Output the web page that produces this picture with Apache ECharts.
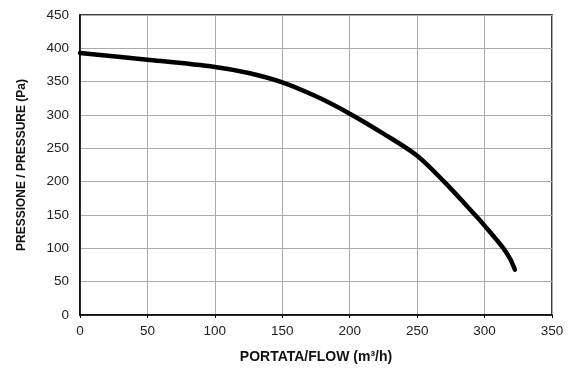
<!DOCTYPE html>
<html><head><meta charset="utf-8">
<script src="https://cdn.jsdelivr.net/npm/echarts@6/dist/echarts.min.js"></script>
<style>html,body{margin:0;padding:0;background:#fff}#c{width:584px;height:369px}</style>
</head><body><div id="c"></div>
<script>
const flow = [0, 50, 100, 125, 150, 175, 200, 225, 250, 270, 293, 300, 314, 319, 322.5];
const pressure = [393, 383, 372, 363, 349, 328, 302, 272, 239, 200, 150, 134, 100, 84, 68];
const xTitle = 'PORTATA/FLOW (m³/h)';
const yTitle = 'PRESSIONE / PRESSURE (Pa)';

const chart = echarts.init(document.getElementById('c'));
const font = 'Liberation Sans, Arial, Helvetica, sans-serif';
chart.setOption({
  animation: false,
  grid: {left: 80, right: 32, top: 15, bottom: 53, show: true, borderColor: '#000', borderWidth: 1.5},
  xAxis: {
    type: 'value', min: 0, max: 350, interval: 50,
    name: xTitle, nameLocation: 'middle', nameGap: 35,
    nameTextStyle: {fontFamily: font, fontWeight: 'bold', fontSize: 14, color: '#111'},
    axisLine: {show: true, lineStyle: {color: '#000', width: 1.5}},
    axisTick: {show: true, length: 3, lineStyle: {color: '#000'}},
    axisLabel: {fontFamily: font, fontSize: 13.5, color: '#222', margin: 9},
    splitLine: {show: true, lineStyle: {color: '#aaa', width: 1}}
  },
  yAxis: {
    type: 'value', min: 0, max: 450, interval: 50,
    name: yTitle, nameLocation: 'middle', nameGap: 52,
    nameTextStyle: {fontFamily: font, fontWeight: 'bold', fontSize: 12, color: '#111'},
    axisLine: {show: true, lineStyle: {color: '#000', width: 1.5}},
    axisTick: {show: false},
    axisLabel: {fontFamily: font, fontSize: 13.5, color: '#222', margin: 11},
    splitLine: {show: true, lineStyle: {color: '#aaa', width: 1}}
  },
  series: [{
    type: 'line', smooth: 0.3, symbol: 'none',
    data: flow.map((f, i) => [f, pressure[i]]),
    lineStyle: {color: '#000', width: 4.5, cap: 'round'}
  }]
});
</script></body></html>
